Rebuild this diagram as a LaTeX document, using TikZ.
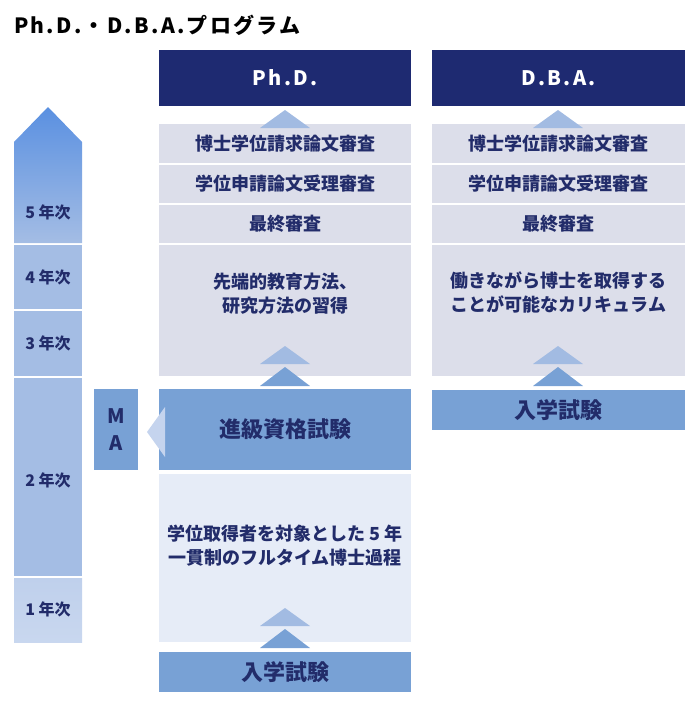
\documentclass[tikz,border=0pt]{standalone}
\usepackage{fontspec}
\setmainfont{Noto Sans CJK JP}
\definecolor{navy}{HTML}{1E2A71}
\definecolor{ink}{HTML}{222C6A}
\definecolor{rowgray}{HTML}{DCDEEA}
\definecolor{midblue}{HTML}{78A1D5}
\definecolor{lightbox}{HTML}{E6ECF7}
\definecolor{trilight}{HTML}{A2BBE2}
\definecolor{matri}{HTML}{C5D4EE}
\definecolor{yearblue}{HTML}{A4BDE4}
\definecolor{yearlight}{HTML}{BFD0EC}
\definecolor{arrowtop}{HTML}{5A90E1}
\tikzset{
  every node/.style={inner sep=0pt, outer sep=0pt},
  header/.style={rectangle, fill=navy, text=white, font=\fontsize{20pt}{24pt}\selectfont\bfseries\addfontfeature{LetterSpace=12}},
  rowbox/.style={rectangle, fill=rowgray, text=ink, font=\fontsize{18pt}{24pt}\selectfont\bfseries},
  exambox/.style={rectangle, fill=midblue, text=ink, font=\fontsize{22pt}{26pt}\selectfont\bfseries},
  lbox/.style={rectangle, fill=lightbox},
  txt/.style={text=ink, align=center, font=\fontsize{18pt}{24pt}\selectfont\bfseries},
  yeartxt/.style={text=ink, font=\fontsize{16pt}{20pt}\selectfont\bfseries},
  tri/.style={fill=trilight},
  trid/.style={fill=midblue},
}
\begin{document}
\begin{tikzpicture}[x=1pt,y=-1pt]
\useasboundingbox (0,0) rectangle (696,710);
% title
\node[anchor=west, text=black, font=\fontsize{21pt}{24pt}\selectfont\bfseries\addfontfeature{LetterSpace=11}] (title) at (14,25) {Ph.D.・D.B.A.プログラム};

% year column
\shade[top color=arrowtop, bottom color=yearblue] (14,243) -- (14,142) -- (48,107) -- (82,142) -- (82,243) -- cycle;
\node[rectangle, fill=yearblue, minimum width=68pt, minimum height=64pt] (y4) at (48,277) {};
\node[rectangle, fill=yearblue, minimum width=68pt, minimum height=65pt] (y3) at (48,343.5) {};
\node[rectangle, fill=yearblue, minimum width=68pt, minimum height=198pt] (y2) at (48,477) {};
\node[rectangle, top color=yearlight, bottom color=yearlight!85!white, minimum width=68pt, minimum height=64pt] (y1) at (48,610) {};
\node[yeartxt] (t5) at (48,212) {5 年次};
\node[yeartxt] (t4) at (48,277) {4 年次};
\node[yeartxt] (t3) at (48,343) {3 年次};
\node[yeartxt] (t2) at (48,480) {2 年次};
\node[yeartxt] (t1) at (48,609) {1 年次};

% MA
\node[rectangle, fill=midblue, text=ink, align=center, minimum width=44pt, minimum height=81pt, font=\fontsize{20pt}{27pt}\selectfont\bfseries] (ma) at (116,429.5) {M\\A};

% Ph.D. column
\node[header, minimum width=252pt, minimum height=56pt] (phd) at (285,78) {Ph.D.};
\node[rowbox, minimum width=252pt, minimum height=39pt] (p1) at (285,143.5) {博士学位請求論文審査};
\node[rowbox, minimum width=252pt, minimum height=38pt] (p2) at (285,184) {学位申請論文受理審査};
\node[rowbox, minimum width=252pt, minimum height=38pt] (p3) at (285,224) {最終審査};
\node[rowbox, minimum width=252pt, minimum height=131pt] (p4) at (285,310.5) {};
\node[txt] (p4t) at (285,293.5) {先端的教育方法、\\研究方法の習得};
\node[exambox, minimum width=252pt, minimum height=81pt] (pex) at (285,429.5) {進級資格試験};
\node[lbox, minimum width=252pt, minimum height=168pt] (pl) at (285,558) {};
\node[txt] (plt) at (285,546) {学位取得者を対象とした 5 年\\一貫制のフルタイム博士過程};
\node[exambox, minimum width=252pt, minimum height=40pt] (pen) at (285,672) {入学試験};

% Ph.D. arrows
\fill[tri] (260,128) -- (285,110) -- (310,128) -- cycle;
\fill[tri] (260,364) -- (285,346) -- (310,364) -- cycle;
\fill[trid] (260,386) -- (285,367) -- (310,386) -- cycle;
\fill[tri] (260,626) -- (285,608) -- (310,626) -- cycle;
\fill[trid] (260,648) -- (285,629) -- (310,648) -- cycle;
\fill[matri] (165,407) -- (165,457) -- (147,432) -- cycle;

% D.B.A. column
\node[header, minimum width=253pt, minimum height=56pt] (dba) at (558.5,78) {D.B.A.};
\node[rowbox, minimum width=253pt, minimum height=39pt] (d1) at (558.5,143.5) {博士学位請求論文審査};
\node[rowbox, minimum width=253pt, minimum height=38pt] (d2) at (558.5,184) {学位申請論文受理審査};
\node[rowbox, minimum width=253pt, minimum height=38pt] (d3) at (558.5,224) {最終審査};
\node[rowbox, minimum width=253pt, minimum height=131pt] (d4) at (558.5,310.5) {};
\node[txt] (d4t) at (558.5,292) {働きながら博士を取得する\\ことが可能なカリキュラム};
\node[exambox, minimum width=253pt, minimum height=40pt] (den) at (558.5,410) {入学試験};

% D.B.A. arrows
\fill[tri] (533,128) -- (558,110) -- (583,128) -- cycle;
\fill[tri] (533,364) -- (558,346) -- (583,364) -- cycle;
\fill[trid] (533,386) -- (558,367) -- (583,386) -- cycle;
\end{tikzpicture}
\end{document}
